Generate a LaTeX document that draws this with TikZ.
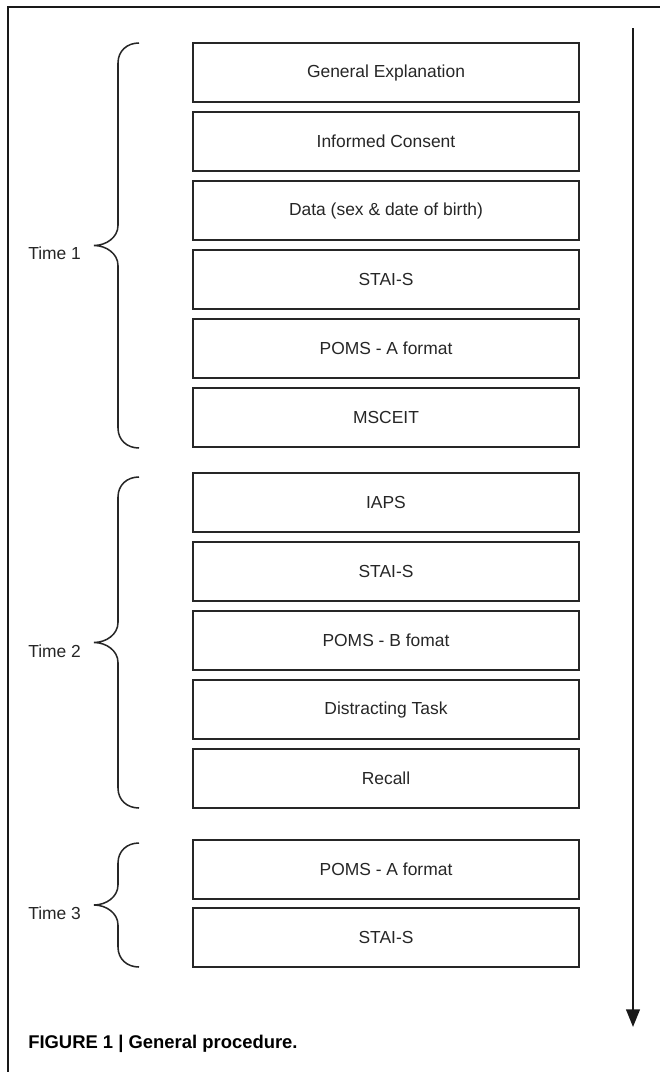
\documentclass[tikz,border=0pt]{standalone}
\usepackage{fontspec}
\setmainfont{Liberation Sans}
\usetikzlibrary{positioning,arrows.meta}
\def\timebrace(#1:#2){%
  \pgfmathsetmacro\bmid{(#1+#2)/2}
  \draw[line width=0.38mm, color=black!85] (139,#1) .. controls (127,#1) and (118,#1+8) .. (118,#1+20)
    -- (118,\bmid-20) .. controls (118,\bmid-8) and (106,\bmid) .. (94,\bmid)
    .. controls (106,\bmid) and (118,\bmid+8) .. (118,\bmid+20)
    -- (118,#2-20) .. controls (118,#2-8) and (127,#2) .. (139,#2);}
\tikzset{
  stepbox/.style={draw=black!85, line width=1.6pt, minimum width=9.65cm, minimum height=1.475cm,
    inner sep=0pt, outer sep=0pt, text=black!85, font=\fontsize{12.4}{14}\selectfont},
  timelabel/.style={anchor=west, inner sep=0pt, text=black!85, font=\fontsize{12.4}{14}\selectfont}
}
\begin{document}
\begin{tikzpicture}[x=0.025cm, y=-0.025cm, node distance=0.25cm]
			%%%%% START %%%%%
			\useasboundingbox (0,0) rectangle (659,1072);
			
			\draw[line width=0.7mm, color=black!90] (8,1090) -- (8,7) -- (680,7);
			
			\node[stepbox] (gen) at (386,72.5) {General Explanation};
			\node[stepbox, below=of gen] (cons) {Informed Consent};
			\node[stepbox, below=of cons] (data) {Data (sex \& date of birth)};
			\node[stepbox, below=of data] (staia) {STAI-S};
			\node[stepbox, below=of staia] (pomsa) {POMS - A format};
			\node[stepbox, below=of pomsa] (msceit) {MSCEIT};
			
			\node[stepbox] (iaps) at (386,502.5) {IAPS};
			\node[stepbox, below=of iaps] (staib) {STAI-S};
			\node[stepbox, below=of staib] (pomsb) {POMS - B fomat};
			\node[stepbox, below=of pomsb] (distr) {Distracting Task};
			\node[stepbox, below=of distr] (recall) {Recall};
			
			\node[stepbox] (pomsc) at (386,869.5) {POMS - A format};
			\node[stepbox, below=0.22cm of pomsc] (staic) {STAI-S};
			
			\timebrace(43:448)
			\node[timelabel] (time1) at (28,253.5) {Time 1};
			\timebrace(477:808)
			\node[timelabel] (time2) at (28,651) {Time 2};
			\timebrace(843:967)
			\node[timelabel] (time3) at (28,913) {Time 3};
			
			\draw[line width=0.55mm, color=black!90, -{Triangle[width=0.34cm,length=0.44cm]}] (633,28) -- (633,1027);
			
			\node[anchor=west, inner sep=0pt, font=\fontsize{13.1}{15}\selectfont\bfseries] (caption) at (28,1044) {FIGURE 1 | General procedure.};
			
			%%%%% END %%%%%
\end{tikzpicture}
\end{document}
